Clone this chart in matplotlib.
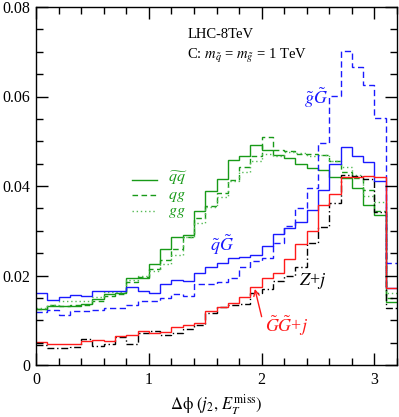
import numpy as np
import matplotlib
matplotlib.use("Agg")
import matplotlib.pyplot as plt
from matplotlib.ticker import MultipleLocator, FixedLocator, FuncFormatter

plt.rcParams['font.family'] = ['Liberation Serif', 'DejaVu Serif']
plt.rcParams['mathtext.fontset'] = 'stix'

bin_edges = np.round(np.arange(0, 3.2001, 0.1), 2)

qG = [0.0161, 0.0146, 0.0153, 0.0157, 0.0155, 0.0165, 0.0165, 0.0165, 0.0174, 0.0165,
      0.0160, 0.0180, 0.0190, 0.0187, 0.0206, 0.0220, 0.0227, 0.0238, 0.0242, 0.0246,
      0.0266, 0.0292, 0.0306, 0.0320, 0.0347, 0.0390, 0.0450, 0.0488, 0.0468, 0.0454,
      0.0411, 0.0171]
gG = [0.0118, 0.0123, 0.0111, 0.0121, 0.0120, 0.0122, 0.0127, 0.0128, 0.0133, 0.0142,
      0.0142, 0.0149, 0.0158, 0.0155, 0.0180, 0.0181, 0.0186, 0.0194, 0.0220, 0.0232,
      0.0238, 0.0272, 0.0310, 0.0351, 0.0395, 0.0497, 0.0601, 0.0702, 0.0667, 0.0626,
      0.0551, 0.0228]
GGj = [0.0051, 0.0048, 0.0048, 0.0048, 0.0053, 0.0056, 0.0053, 0.0064, 0.0066, 0.0075,
       0.0072, 0.0074, 0.0085, 0.0090, 0.0094, 0.0121, 0.0130, 0.0138, 0.0153, 0.0175,
       0.0194, 0.0205, 0.0237, 0.0270, 0.0299, 0.0357, 0.0383, 0.0419, 0.0420, 0.0423,
       0.0420, 0.0171]
Zj = [0.0045, 0.0037, 0.0039, 0.0041, 0.0057, 0.0043, 0.0047, 0.0062, 0.0048, 0.0071,
      0.0077, 0.0067, 0.0071, 0.0080, 0.0089, 0.0117, 0.0129, 0.0133, 0.0137, 0.0160,
      0.0170, 0.0187, 0.0200, 0.0218, 0.0272, 0.0309, 0.0362, 0.0425, 0.0422, 0.0415,
      0.0343, 0.0127]
sqsq = [0.0125, 0.0131, 0.0131, 0.0131, 0.0137, 0.0147, 0.0158, 0.0160, 0.0195, 0.0195,
        0.0225, 0.0259, 0.0285, 0.0290, 0.0344, 0.0388, 0.0415, 0.0458, 0.0468, 0.0491,
        0.0480, 0.0470, 0.0462, 0.0450, 0.0440, 0.0436, 0.0420, 0.0417, 0.0395, 0.0357,
        0.0335, 0.0140]
sqsg = [0.0125, 0.0133, 0.0132, 0.0133, 0.0135, 0.0144, 0.0155, 0.0159, 0.0185, 0.0196,
        0.0215, 0.0234, 0.0260, 0.0285, 0.0328, 0.0355, 0.0384, 0.0413, 0.0443, 0.0466,
        0.0510, 0.0481, 0.0478, 0.0472, 0.0471, 0.0470, 0.0456, 0.0432, 0.0417, 0.0390,
        0.0345, 0.0150]
sgsg = [0.0128, 0.0134, 0.0142, 0.0142, 0.0143, 0.0152, 0.0164, 0.0163, 0.0189, 0.0200,
        0.0209, 0.0226, 0.0245, 0.0286, 0.0318, 0.0354, 0.0376, 0.0412, 0.0432, 0.0456,
        0.0472, 0.0468, 0.0477, 0.0474, 0.0468, 0.0470, 0.0456, 0.0443, 0.0424, 0.0378,
        0.0365, 0.0160]

BLUE = '#1a1aff'
GREEN = '#189a18'
GREEN_L = '#55bb55'
RED = '#ff1a1a'

fig = plt.figure(figsize=(3.99, 4.17), dpi=100)
ax = fig.add_axes([36/399, 1-365/417, (397-36)/399, (365-7)/417])

lw = 1.0
ax.stairs(sqsq, bin_edges, baseline=None, color=GREEN, lw=lw)
ax.stairs(sqsg, bin_edges, baseline=None, color=GREEN, lw=lw, linestyle=(0, (4, 2.5)))
ax.stairs(sgsg, bin_edges, baseline=None, color=GREEN_L, lw=lw, linestyle=(0, (1, 2)))
ax.stairs(Zj, bin_edges, baseline=None, color='black', lw=lw, linestyle=(0, (5, 2, 1, 2)))
ax.stairs(gG, bin_edges, baseline=None, color=BLUE, lw=lw, linestyle=(0, (4.5, 2.5)))
ax.stairs(qG, bin_edges, baseline=None, color=BLUE, lw=lw)
ax.stairs(GGj, bin_edges, baseline=None, color=RED, lw=lw)

ax.set_xlim(0, 3.2)
ax.set_ylim(0, 0.08)
ax.xaxis.set_major_locator(FixedLocator([0, 1, 2, 3]))
ax.xaxis.set_minor_locator(MultipleLocator(0.2))
ax.yaxis.set_major_locator(MultipleLocator(0.02))
ax.yaxis.set_minor_locator(MultipleLocator(0.005))
ax.yaxis.set_major_formatter(FuncFormatter(lambda v, p: '0' if abs(v) < 1e-9 else f'{v:.2f}'))
ax.xaxis.set_major_formatter(FuncFormatter(lambda v, p: f'{v:.0f}'))
ax.tick_params(which='both', direction='in', top=True, right=True, labelsize=11.5, width=1.0)
ax.tick_params(which='major', length=8.5)
ax.tick_params(which='minor', length=5)
ax.tick_params(axis='y', pad=4)
ax.tick_params(axis='x', pad=5)
for s in ax.spines.values():
    s.set_linewidth(1.0)

ax.set_xlabel(r'$\Delta\mathrm{\phi}\ (j_2,\, E_T^{\mathrm{miss}})$', fontsize=12, labelpad=3)

# annotations
ax.text(1.34, 0.0738, 'LHC-8TeV', fontsize=10.5, va='center', ha='left')
ax.text(1.34, 0.0691, r'C: $m_{\tilde{q}}$ = $m_{\tilde{g}}$ = 1 TeV', fontsize=10.5, va='center', ha='left')
ax.text(2.48, 0.0597, r'$\tilde{g}\tilde{G}$', color=BLUE, fontsize=13, va='center', ha='center')
ax.text(1.65, 0.0268, r'$\tilde{q}\tilde{G}$', color=BLUE, fontsize=13, va='center', ha='center')
ax.text(2.45, 0.0188, r'$Z$+$j$', color='black', fontsize=13, va='center', ha='center')
ax.text(2.22, 0.0088, r'$\tilde{G}\tilde{G}$+$j$', color=RED, fontsize=13, va='center', ha='center')
ax.annotate('', xy=(1.94, 0.0170), xytext=(2.0, 0.0108),
            arrowprops=dict(arrowstyle='->', color=RED, lw=1.0, shrinkA=0, shrinkB=0))

# legend (green)
leg_y = [0.0413, 0.0379, 0.0345]
leg_text_y = [0.0418, 0.0378, 0.0341]
leg_lab = [r'$\widetilde{qq}$', r'$qg$', r'$gg$']
leg_ls = ['-', (0, (4, 2.5)), (0, (1, 2))]
leg_col = [GREEN, GREEN, GREEN_L]
for yy, ty, lab, ls, c in zip(leg_y, leg_text_y, leg_lab, leg_ls, leg_col):
    ax.plot([0.85, 1.07], [yy, yy], color=c, lw=lw, linestyle=ls)
    ax.text(1.17, ty, lab, color=GREEN, fontsize=11.5, va='center', ha='left')

fig.savefig('out.png', dpi=100)
